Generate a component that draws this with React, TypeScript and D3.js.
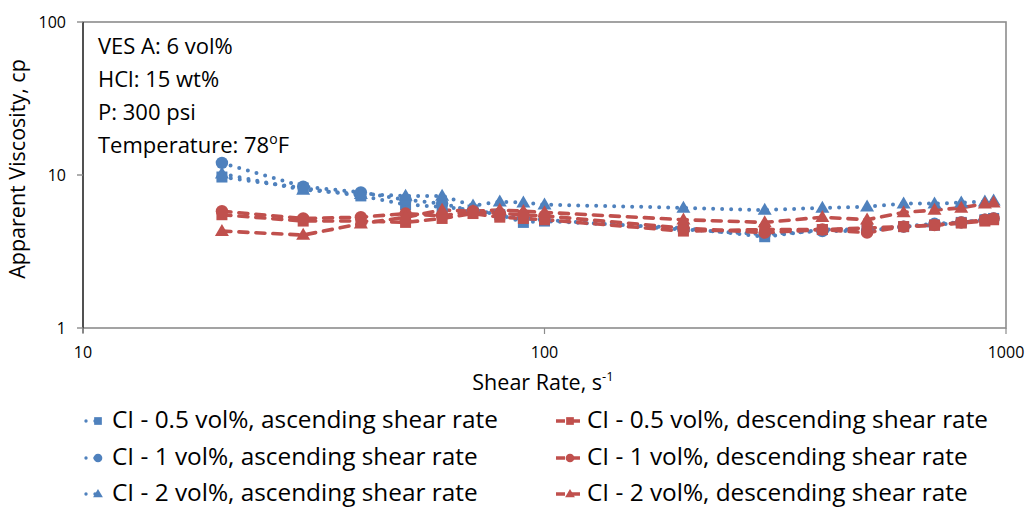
import React from "react";
import * as d3 from "d3";

// Shear rates (1/s) at which viscosity was measured
const shearRates = [20, 30, 40, 50, 60, 70, 80, 90, 100, 200, 300, 400, 500, 600, 700, 800, 900, 940];

// Apparent viscosity (cp), ascending shear rate
const ascCI05 = [9.7, 8.2, 7.3, 6.4, 6.2, 5.9, 5.5, 4.9, 5.0, 4.5, 3.95, 4.4, 4.4, 4.6, 4.7, 4.9, 5.1, 5.2];
const ascCI1 = [12.0, 8.4, 7.7, 6.9, 6.5, 5.8, 5.6, 5.2, 5.1, 4.4, 4.1, 4.3, 4.3, 4.6, 4.8, 4.9, 5.1, 5.2];
const ascCI2 = [10.2, 8.0, 7.5, 7.3, 7.3, 6.3, 6.7, 6.6, 6.4, 6.1, 5.9, 6.1, 6.2, 6.5, 6.5, 6.6, 6.7, 6.8];

// Apparent viscosity (cp), descending shear rate
const descCI05 = [5.5, 5.0, 5.0, 4.9, 5.2, 5.6, 5.3, 5.2, 5.1, 4.3, 4.4, 4.4, 4.5, 4.6, 4.7, 4.85, 5.0, 5.1];
const descCI1 = [5.8, 5.2, 5.3, 5.6, 5.4, 5.8, 5.6, 5.5, 5.4, 4.5, 4.2, 4.4, 4.2, 4.6, 4.7, 4.9, 5.1, 5.2];
const descCI2 = [4.3, 4.05, 4.8, 5.3, 5.9, 5.8, 5.9, 5.8, 5.7, 5.1, 4.9, 5.3, 5.1, 5.7, 5.9, 6.1, 6.5, 6.6];

const xTicks = [10, 100, 1000];
const yTicks = [1, 10, 100];

const annotations = ["VES A: 6 vol%", "HCl: 15 wt%", "P: 300 psi"];

type Shape = "square" | "circle" | "triangle";

const BLUE = "#4F81BD";
const RED = "#C0504D";

const series: { label: string; values: number[]; color: string; shape: Shape; dotted: boolean }[] = [
  { label: "CI - 0.5 vol%, ascending shear rate", values: ascCI05, color: BLUE, shape: "square", dotted: true },
  { label: "CI - 1 vol%, ascending shear rate", values: ascCI1, color: BLUE, shape: "circle", dotted: true },
  { label: "CI - 2 vol%, ascending shear rate", values: ascCI2, color: BLUE, shape: "triangle", dotted: true },
  { label: "CI - 0.5 vol%, descending shear rate", values: descCI05, color: RED, shape: "square", dotted: false },
  { label: "CI - 1 vol%, descending shear rate", values: descCI1, color: RED, shape: "circle", dotted: false },
  { label: "CI - 2 vol%, descending shear rate", values: descCI2, color: RED, shape: "triangle", dotted: false },
];

const FONT = "'Open Sans', sans-serif";

function Marker({ shape, x, y, color, s = 1 }: { shape: Shape; x: number; y: number; color: string; s?: number }) {
  if (shape === "square") {
    return <rect x={x - 5.5 * s} y={y - 5.5 * s} width={11 * s} height={11 * s} fill={color} />;
  }
  if (shape === "circle") {
    return <circle cx={x} cy={y} r={6.2 * s} fill={color} />;
  }
  const h = 12 * s;
  const w = 14 * s;
  return (
    <path
      d={`M${x},${y - h * 0.6} L${x + w / 2},${y + h * 0.4} L${x - w / 2},${y + h * 0.4} Z`}
      fill={color}
    />
  );
}

export default function App() {
  const W = 1026;
  const H = 508;
  const left = 83;
  const right = 1006;
  const top = 22;
  const bottom = 328;

  const x = d3.scaleLog().domain([10, 1000]).range([left, right]);
  const y = d3.scaleLog().domain([1, 100]).range([bottom, top]);

  const line = d3
    .line<number>()
    .x((_, i) => x(shearRates[i]))
    .y((v) => y(v));

  const dotted = { strokeDasharray: "0 9", strokeLinecap: "round" as const, strokeWidth: 4 };
  const dashed = { strokeDasharray: "9 8", strokeLinecap: "round" as const, strokeWidth: 3.6 };

  // legend text baselines, font size and horizontal stretch per column
  const legendBase = [428, 465, 501];
  const legendFont = 23;
  const legendStretch = [1.06, 1.06];

  return (
    <svg width={W} height={H} style={{ position: "absolute", left: 0, top: 0, background: "#fff" }}>
      <rect x={0} y={0} width={W} height={H} fill="#fff" />

      {/* plot area frame */}
      <rect x={left} y={top} width={right - left} height={bottom - top} fill="none" stroke="#8C8C8C" strokeWidth={1.6} />
      <line x1={left} x2={left} y1={top} y2={bottom + 5} stroke="#000" strokeWidth={1} />

      {/* y axis ticks and labels */}
      {yTicks.map((t) => (
        <g key={`y${t}`}>
          <line x1={left - 6} x2={left} y1={y(t)} y2={y(t)} stroke="#8C8C8C" strokeWidth={1.4} />
          <text x={left - 17} y={y(t)} dy="0.35em" textAnchor="end" fontFamily={FONT} fontSize={16} fill="#000">
            {t}
          </text>
        </g>
      ))}

      {/* x axis ticks and labels */}
      {xTicks.map((t) => (
        <g key={`x${t}`}>
          <line x1={x(t)} x2={x(t)} y1={bottom} y2={bottom + 6} stroke="#8C8C8C" strokeWidth={1.2} />
          <text x={x(t)} y={352} dy="0.35em" textAnchor="middle" fontFamily={FONT} fontSize={16} fill="#000">
            {t}
          </text>
        </g>
      ))}

      {/* axis titles */}
      <text
        transform={`translate(25,169) rotate(-90)`}
        textAnchor="middle"
        fontFamily={FONT}
        fontSize={21.5}
        fill="#000"
      >
        Apparent Viscosity, cp
      </text>
      <text x={543} y={390} textAnchor="middle" fontFamily={FONT} fontSize={21.5} fill="#000">
        Shear Rate, s
        <tspan dy={-9} fontSize={13}>
          -1
        </tspan>
      </text>

      {/* test conditions */}
      {annotations.map((a, i) => (
        <text key={a} x={98} y={54 + i * 33} fontFamily={FONT} fontSize={22} fill="#000">
          {a}
        </text>
      ))}
      <text x={98} y={153} fontFamily={FONT} fontSize={22} fill="#000">
        Temperature: 78
        <tspan dy={-9} fontSize={14}>
          o
        </tspan>
        <tspan dy={9}>F</tspan>
      </text>

      {/* series lines */}
      {series.map((s) => (
        <path
          key={`l-${s.label}`}
          d={line(s.values) || ""}
          fill="none"
          stroke={s.color}
          {...(s.dotted ? dotted : dashed)}
        />
      ))}

      {/* series markers */}
      {series.map((s) => (
        <g key={`m-${s.label}`}>
          {s.values.map((v, i) => (
            <Marker key={i} shape={s.shape} x={x(shearRates[i])} y={y(v)} color={s.color} />
          ))}
        </g>
      ))}

      {/* legend */}
      {series.map((s, i) => {
        const col = i < 3 ? 0 : 1;
        const row = i % 3;
        const base = legendBase[row];
        const cy = base - 7;
        const x0 = col === 0 ? 86 : 556;
        const x1 = col === 0 ? 104 : 585;
        const mx = col === 0 ? 98 : 570;
        const tx = col === 0 ? 112 : 587;
        return (
          <g key={`lg-${s.label}`}>
            <line
              x1={x0}
              x2={x1}
              y1={cy}
              y2={cy}
              stroke={s.color}
              {...(s.dotted ? { ...dotted, strokeWidth: 3.4 } : { ...dashed, strokeDasharray: "9 6", strokeLinecap: "butt" as const })}
            />
            <Marker shape={s.shape} x={mx} y={cy} color={s.color} s={0.7} />
            <text
              x={tx}
              y={base}
              fontFamily={FONT}
              fontSize={legendFont}
              fill="#000"
              transform={`translate(${tx},0) scale(${legendStretch[col]},1) translate(${-tx},0)`}
            >
              {s.label}
            </text>
          </g>
        );
      })}
    </svg>
  );
}
